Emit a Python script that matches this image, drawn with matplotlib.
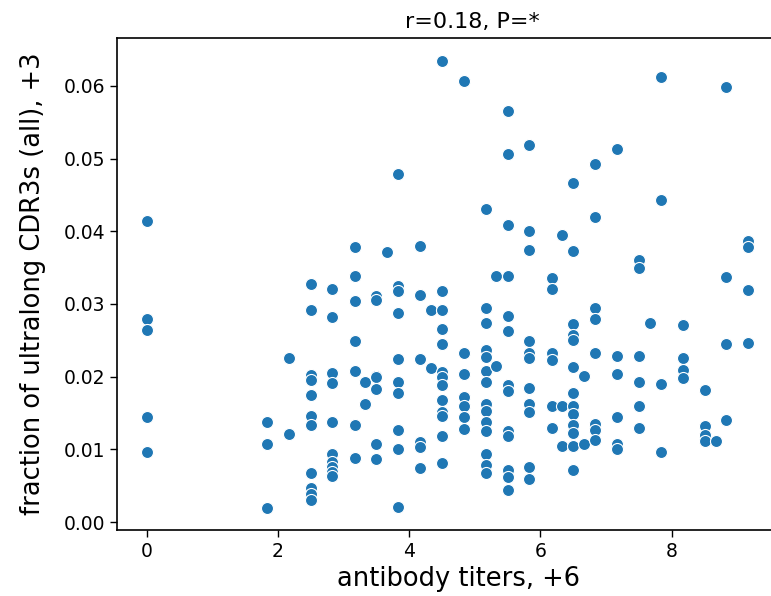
import numpy as np
import matplotlib
matplotlib.use("Agg")
import matplotlib.pyplot as plt

# antibody titer groups (x) and the ultralong CDR3 fractions measured in each
titers = [0.0, 1.83, 2.17, 2.5, 2.83, 3.17, 3.33, 3.5, 3.67, 3.83, 4.17, 4.33,
          4.5, 4.83, 5.17, 5.33, 5.5, 5.83, 6.17, 6.33, 6.5, 6.67, 6.83,
          7.17, 7.5, 7.67, 7.83, 8.17, 8.5, 8.67, 8.83, 9.17]

fractions = [
    [0.0414, 0.0280, 0.0264, 0.0144, 0.0097],
    [0.0137, 0.0107, 0.0019],
    [0.0225, 0.0121],
    [0.0328, 0.0292, 0.0202, 0.0195, 0.0175, 0.0146, 0.0134, 0.0068, 0.0047, 0.0039, 0.0030],
    [0.0320, 0.0282, 0.0205, 0.0191, 0.0137, 0.0094, 0.0083, 0.0076, 0.0069, 0.0063],
    [0.0378, 0.0339, 0.0304, 0.0249, 0.0208, 0.0134, 0.0088],
    [0.0192, 0.0163],
    [0.0311, 0.0306, 0.0201, 0.0199, 0.0183, 0.0107, 0.0087],
    [0.0372],
    [0.0479, 0.0325, 0.0318, 0.0288, 0.0224, 0.0193, 0.0177, 0.0126, 0.0100, 0.0021],
    [0.0380, 0.0312, 0.0224, 0.0110, 0.0103, 0.0074],
    [0.0292, 0.0212],
    [0.0635, 0.0318, 0.0292, 0.0265, 0.0245, 0.0206, 0.0199, 0.0188, 0.0168, 0.0152, 0.0146, 0.0118, 0.0081],
    [0.0607, 0.0232, 0.0204, 0.0172, 0.0159, 0.0145, 0.0128],
    [0.0431, 0.0295, 0.0274, 0.0237, 0.0227, 0.0208, 0.0192, 0.0163, 0.0153, 0.0138, 0.0125, 0.0094, 0.0079, 0.0067],
    [0.0339, 0.0215],
    [0.0566, 0.0506, 0.0409, 0.0339, 0.0284, 0.0263, 0.0189, 0.0180, 0.0125, 0.0119, 0.0071, 0.0062, 0.0044],
    [0.0519, 0.0401, 0.0374, 0.0249, 0.0232, 0.0225, 0.0184, 0.0163, 0.0151, 0.0076, 0.0059],
    [0.0336, 0.0320, 0.0232, 0.0223, 0.0160, 0.0129],
    [0.0395, 0.0160, 0.0104],
    [0.0466, 0.0373, 0.0272, 0.0258, 0.0250, 0.0213, 0.0177, 0.0160, 0.0148, 0.0134, 0.0123, 0.0105, 0.0072],
    [0.0201, 0.0107],
    [0.0493, 0.0420, 0.0295, 0.0279, 0.0233, 0.0135, 0.0127, 0.0113],
    [0.0513, 0.0228, 0.0203, 0.0144, 0.0108, 0.0101],
    [0.0361, 0.0349, 0.0229, 0.0192, 0.0159, 0.0130],
    [0.0274],
    [0.0613, 0.0443, 0.0190, 0.0097],
    [0.0271, 0.0225, 0.0209, 0.0198],
    [0.0182, 0.0132, 0.0120, 0.0111],
    [0.0112],
    [0.0598, 0.0337, 0.0245, 0.0140],
    [0.0386, 0.0378, 0.0319, 0.0247],
]

title_text = "r=0.18, P=*"
x_label = "antibody titers, +6"
y_label = "fraction of ultralong CDR3s (all), +3"
x_ticks = [0, 2, 4, 6, 8]
y_ticks = [0.00, 0.01, 0.02, 0.03, 0.04, 0.05, 0.06]

x = np.concatenate([[t] * len(f) for t, f in zip(titers, fractions)])
y = np.concatenate([np.asarray(f) for f in fractions])

W, H = 771, 596
fig = plt.figure(figsize=(W / 100, H / 100), dpi=100)
ax = fig.add_axes([117 / W, 66 / H, (801 - 117) / W, (530 - 38) / H])

ax.scatter(x, y, s=75, color="#1f77b4", edgecolors="white", linewidths=0.8, zorder=3)

ax.set_xlim(-0.45, 9.97)
ax.set_ylim(-0.0011, 0.0666)
ax.set_xticks(x_ticks)
ax.set_yticks(y_ticks)
ax.set_yticklabels([f"{v:.2f}" for v in y_ticks])
ax.tick_params(labelsize=13.5, length=5, width=1)
for sp in ax.spines.values():
    sp.set_linewidth(1.2)

ax.set_title(title_text, fontsize=16, pad=7, x=0.52)
ax.set_xlabel(x_label, fontsize=18.5, labelpad=4)
ax.set_ylabel(y_label, fontsize=18.5, labelpad=13)

fig.savefig("out.png", dpi=100)
